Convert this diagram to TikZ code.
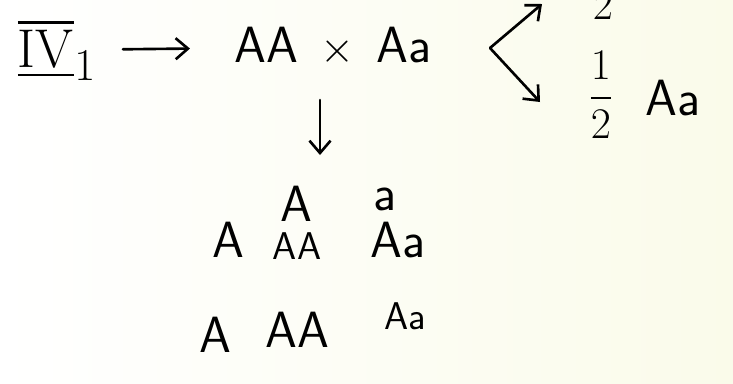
\documentclass[tikz,border=0pt]{standalone}
\usepackage{amsmath}
\usepackage{tikz}
\usetikzlibrary{arrows.meta,positioning,calc}
\definecolor{paper}{RGB}{250,251,234}

\begin{document}
\begin{tikzpicture}[
    x=0.02cm, y=-0.02cm,
    every node/.style={font=\sffamily\fontsize{29}{34}\selectfont, inner sep=1pt},
    hand/.style={line width=1.5pt, line cap=round, line join=round},
    arr/.style={hand, -{Straight Barb[length=7pt, width=12pt, line width=1.5pt]}},
    small/.style={font=\sffamily\fontsize{22}{26}\selectfont},
]
% === paper ===
\shade[left color=white, right color=paper] (0,0) rectangle (733,383);
\useasboundingbox (0,0) rectangle (733,383);

% === cross ===
\node (iv) at (57,50) {\scalebox{1.25}{$\overline{\underline{\mathrm{IV}}}_{1}$}};
\node (cross) at (333,47) {AA\hspace{0.45cm}$\times$\hspace{0.45cm}Aa};
\draw[arr, shorten <=14pt, shorten >=24pt] (iv) -- (cross);

% Fork into the offspring
\coordinate (fork) at (490,48);
\coordinate (upend) at (542,4);
\coordinate (downend) at (540,102);
\node (half1) at (603,-24) {$\dfrac{1}{2}$};
\node (half2) at (601,95) {$\dfrac{1}{2}$};
\node[right=16pt of half2, yshift=-2pt] (het) {Aa};
\draw[arr] (fork) -- (upend);
\draw[arr] (fork) -- (downend);

% === Punnett square ===
\coordinate (dtop) at (320,100);
\coordinate (dbot) at (320,155);
\draw[arr] (dtop) -- (dbot);

\node (hA) at (296,204) {A};
\node (ha) at (385,199) {a};
\node (r1) at (228,240) {A};
\node[small] (c11) at (297,246) {AA};
\node (c12) at (398,240) {Aa};
\node (r2) at (215,335) {A};
\node (c21) at (297,330) {AA};
\node[small] (c22) at (405,316) {Aa};

\end{tikzpicture}
\end{document}
